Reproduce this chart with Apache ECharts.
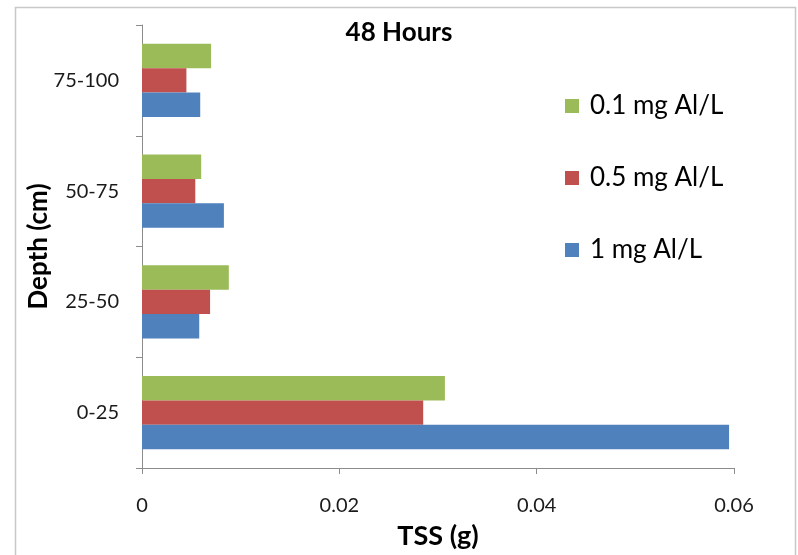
<!DOCTYPE html>
<html>
<head>
<meta charset="utf-8">
<script src="https://cdn.jsdelivr.net/npm/echarts@6/dist/echarts.min.js"></script>
<style>
  html, body { margin: 0; padding: 0; background: #ffffff; }
  #chart { width: 798px; height: 555px; }
</style>
</head>
<body>
<div id="chart"></div>
<script>
// Depth bands, bottom to top
const depths = ['0-25', '25-50', '50-75', '75-100'];

// TSS (g) per depth band for each aluminium dose
const dose01 = [0.0307, 0.0088, 0.0060, 0.0070];  // 0.1 mg Al/L
const dose05 = [0.0285, 0.0069, 0.0054, 0.0045];  // 0.5 mg Al/L
const dose1 = [0.0595, 0.0058, 0.0083, 0.0059];   // 1 mg Al/L

// within each band the first series sits on top
const seriesNames = ['0.1 mg Al/L', '0.5 mg Al/L', '1 mg Al/L'];
const seriesColors = ['#9BBB59', '#C0504D', '#4F81BD'];
const seriesData = [dose01, dose05, dose1];

const xTicks = { min: 0, max: 0.06, interval: 0.02 };

const font = 'Lato, "Open Sans", sans-serif';
const axisGray = '#8c8c8c';

const chart = echarts.init(document.getElementById('chart'));

// one legend block per entry, stacked top to bottom
const legendTops = [87, 159, 231];

chart.setOption({
  animation: false,
  backgroundColor: '#ffffff',
  graphic: [{
    type: 'rect',
    shape: { x: 15.5, y: 7.5, width: 780, height: 560 },
    style: { fill: 'none', stroke: '#c8c8c8', lineWidth: 1.5 },
    silent: true
  }],
  title: {
    text: '48 Hours',
    left: 394,
    top: 15,
    textAlign: 'center',
    textStyle: { fontFamily: font, fontWeight: 'bold', fontSize: 26, color: '#000' }
  },
  legend: seriesNames.map((name, i) => ({
    data: [name],
    left: 560,
    top: legendTops[i],
    orient: 'vertical',
    itemWidth: 14,
    itemHeight: 14,
    itemGap: 0,
    icon: 'rect',
    selectedMode: false,
    textStyle: { fontFamily: font, fontSize: 26, color: '#000', lineHeight: 28, padding: [0, 0, 0, 6] }
  })),
  grid: { left: 142, right: 64, top: 25, bottom: 82, containLabel: false },
  xAxis: {
    type: 'value',
    min: xTicks.min,
    max: xTicks.max,
    interval: xTicks.interval,
    name: 'TSS (g)',
    nameLocation: 'middle',
    nameGap: 55,
    nameMoveOverlap: false,
    nameTextStyle: { fontFamily: font, fontWeight: 'bold', fontSize: 27, color: '#000' },
    axisLine: { show: true, lineStyle: { color: axisGray, width: 1 } },
    axisTick: { show: true, length: 6, lineStyle: { color: axisGray } },
    splitLine: { show: false },
    axisLabel: {
      margin: 28,
      fontFamily: font,
      fontSize: 20,
      color: '#1a1a1a',
      formatter: v => (v === 0 ? '0' : String(+v.toFixed(2)))
    }
  },
  yAxis: {
    type: 'category',
    data: depths,
    name: 'Depth (cm)',
    nameLocation: 'middle',
    nameGap: 90,
    nameMoveOverlap: false,
    nameRotate: 90,
    nameTextStyle: { fontFamily: font, fontWeight: 'bold', fontSize: 26, color: '#000' },
    axisLine: { show: true, lineStyle: { color: axisGray, width: 1 } },
    axisTick: { show: true, length: 6, lineStyle: { color: axisGray } },
    axisLabel: { margin: 23, fontFamily: font, fontSize: 20, color: '#1a1a1a' },
    splitLine: { show: false }
  },
  series: seriesNames.map((name, i) => ({
    name: name,
    type: 'bar',
    data: seriesData[i],
    barWidth: '22%',
    barGap: '0%',
    itemStyle: { color: seriesColors[i] }
  }))
});
</script>
</body>
</html>
